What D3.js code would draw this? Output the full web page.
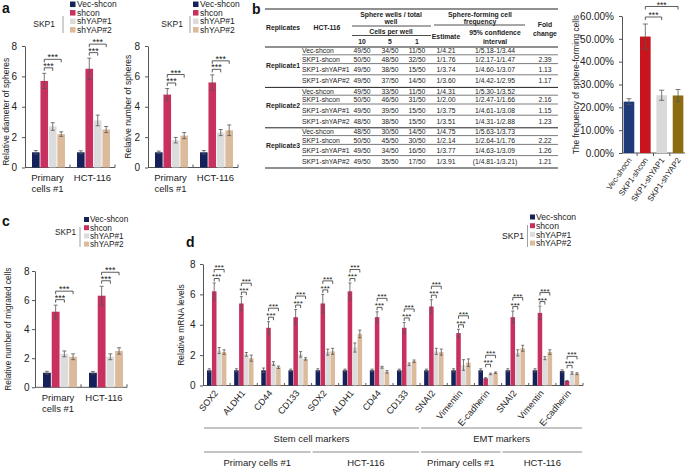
<!DOCTYPE html>
<html><head><meta charset="utf-8">
<script src="https://cdn.jsdelivr.net/npm/d3@7"></script>
<style>
body{margin:0;background:#fff;}
svg{font-family:"Liberation Sans",Arial,Helvetica,sans-serif;}
</style></head><body>
<svg id="fig" width="685" height="468"></svg>
<script>
// ---------------- DATA ----------------
const seriesNames = ["Vec-shcon","shcon","shYAP#1","shYAP#2"];
const seriesColors = ["#15215a","#c8315f","#dcdcdc","#dbbb9b"];
const cellGroups = ["Primary cells #1","HCT-116"];
const yTicksA = [0,2,4,6,8];

const diameterMean = [[1.0,5.7,2.7,2.2],[1.0,6.5,3.1,2.5]];
const diameterErr  = [[0.12,0.5,0.25,0.15],[0.1,0.7,0.35,0.2]];
const sphereNumMean = [[1.0,4.8,1.8,2.1],[1.0,5.6,2.3,2.45]];
const sphereNumErr  = [[0.08,0.4,0.18,0.2],[0.12,0.5,0.2,0.35]];
const migratedMean = [[1.0,5.2,2.3,2.1],[1.0,6.3,2.1,2.5]];
const migratedErr  = [[0.1,0.45,0.2,0.2],[0.08,0.65,0.2,0.22]];

const freqLabels = ["Vec-shocn","SKP1-shcon","SKP1-shYAP1","SKP1-shYAP2"];
const freqMean = [0.225,0.51,0.253,0.252];
const freqErr  = [0.013,0.055,0.022,0.026];
const freqColors = ["#1f3a78","#c8141c","#d9d9d9","#8c6b13"];
const freqTicks = [0,0.1,0.2,0.3,0.4,0.5,0.6];

const tableReplicates = ["Replicate1","Replicate2","Replicate3"];
const tableRowNames = ["Vec-shcon","SKP1-shcon","SKP1-shYAP#1","SKP1-shYAP#2"];
const tableCells10 = ["49/50","50/50","49/50","49/50","49/50","50/50","49/50","48/50","48/50","50/50","49/50","49/50"];
const tableCells5  = ["34/50","48/50","38/50","37/50","33/50","46/50","39/50","38/50","30/50","45/50","34/50","35/50"];
const tableCells1  = ["11/50","32/50","15/50","14/50","11/50","31/50","15/50","15/50","14/50","30/50","16/50","17/50"];
const tableEstimate = ["1/4.21","1/1.76","1/3.74","1/3.60","1/4.31","1/2.00","1/3.75","1/3.51","1/4.75","1/2.14","1/3.77","1/3.91"];
const tableCI = ["1/5.18-1/3.44","1/2.17-1/1.47","1/4.60-1/3.07","1/4.42-1/2.95","1/5.30-1/3.52","1/2.47-1/1.66","1/4.61-1/3.08","1/4.31-1/2.88","1/5.63-1/3.73","1/2.64-1/1.76","1/4.63-1/3.09","(1/4.81-1/3.21)"];
const tableFold = ["","2.39","1.13","1.17","","2.16","1.15","1.23","","2.22","1.26","1.21"];

const mrnaGenes = ["SOX2","ALDH1","CD44","CD133","SOX2","ALDH1","CD44","CD133","SNAI2","Vimentin","E-cadherin","SNAI2","Vimentin","E-cadherin"];
const mrnaVec     = [1,1,1,1,1,1,1,1,1,1,1,1,1,0.95];
const mrnaShcon   = [6.2,5.4,3.8,4.5,5.4,6.2,4.5,3.8,5.2,3.45,0.47,4.5,4.78,0.3];
const mrnaShYAP1  = [2.3,2.05,1.45,2.05,2.2,2.5,1.2,1.4,2.25,1.35,0.76,2.15,1.8,0.82];
const mrnaShYAP2  = [2.2,1.8,1.2,1.75,2.25,3.4,0.9,1.6,2.2,1.5,0.84,2.45,2.2,0.78];
const mrnaVecErr    = [0.1,0.1,0.15,0.08,0.1,0.08,0.08,0.08,0.08,0.1,0.1,0.1,0.1,0.08];
const mrnaShconErr  = [0.55,0.45,0.4,0.5,0.6,0.55,0.35,0.35,0.45,0.25,0.05,0.4,0.45,0.03];
const mrnaShYAP1Err = [0.2,0.12,0.12,0.18,0.2,0.3,0.06,0.08,0.2,0.35,0.05,0.2,0.1,0.08];
const mrnaShYAP2Err = [0.15,0.2,0.08,0.08,0.2,0.25,0.08,0.08,0.2,0.25,0.05,0.2,0.15,0.06];
const markerGroups = [{name:"Stem cell markers", from:0, to:7},{name:"EMT markers", from:8, to:13}];
const cellLineGroups = [{name:"Primary cells #1", from:0, to:3},{name:"HCT-116", from:4, to:7},{name:"Primary cells #1", from:8, to:10},{name:"HCT-116", from:11, to:13}];

// ---------------- DRAWING ----------------
const svg = d3.select("#fig");
const TXT = "#222", AX = "#555", ERR = "#555";

function panelLabel(t, x, y) {
  svg.append("text").attr("x", x).attr("y", y).attr("font-size", 14).attr("font-weight", "bold").attr("fill", "#111").text(t);
}
panelLabel("a", 2, 12.5);
panelLabel("b", 252, 13.5);
panelLabel("c", 2, 226);
panelLabel("d", 186, 246.5);

function styleAxis(sel) {
  sel.selectAll("path,line").attr("stroke", AX);
  sel.selectAll("text").attr("fill", TXT).attr("font-family", null);
}

function legend(o) {
  const g = svg.append("g").attr("font-size", o.fs);
  const rows = g.selectAll("g").data(seriesNames).join("g")
    .attr("transform", (d, i) => `translate(0,${o.y0 + i * o.dy})`);
  rows.append("rect").attr("x", o.sqX).attr("y", -o.sq / 2).attr("width", o.sq).attr("height", o.sq)
    .attr("fill", (d, i) => seriesColors[i]);
  rows.append("text").attr("x", o.textX).attr("y", o.fs * 0.36).attr("fill", TXT).text(d => d);
  g.append("text").attr("x", o.skpX).attr("y", o.skpY).attr("text-anchor", "end").attr("fill", TXT).text("SKP1");
  g.append("line").attr("x1", o.lineX).attr("x2", o.lineX).attr("y1", o.lineY0).attr("y2", o.lineY1)
    .attr("stroke", "#888").attr("stroke-width", 0.8);
}

function bracket(g, xa, xb, yl, fs) {
  g.append("path").attr("d", `M${xa},${yl + 3}V${yl}H${xb}V${yl + 3}`)
    .attr("fill", "none").attr("stroke", "#333").attr("stroke-width", 0.8);
  g.append("text").attr("x", (xa + xb) / 2).attr("y", yl + fs * 0.12).attr("text-anchor", "middle")
    .attr("font-size", fs).attr("fill", TXT).text("***");
}

function errorBar(g, cx, y, m, e, cap) {
  g.append("path").attr("d", `M${cx},${y(m + e)}V${y(m - e)}M${cx - cap},${y(m + e)}H${cx + cap}M${cx - cap},${y(m - e)}H${cx + cap}`)
    .attr("stroke", ERR).attr("stroke-width", 0.8).attr("fill", "none");
}

function groupedChart(o) {
  const g = svg.append("g");
  const x0 = d3.scaleBand().domain(cellGroups).range([o.left, o.right]);
  const x1 = d3.scaleBand().domain(seriesNames).range(o.inner).paddingInner(0.1);
  const y = d3.scaleLinear().domain([0, 8]).range([o.bottom, o.top]);
  g.append("g").attr("transform", `translate(${o.left},0)`).attr("font-size", o.tickFs)
    .call(d3.axisLeft(y).tickValues(yTicksA).tickFormat(d3.format("d")).tickSize(3).tickSizeOuter(0).tickPadding(o.pad))
    .call(styleAxis);
  g.append("line").attr("x1", o.left).attr("x2", o.right).attr("y1", y(0)).attr("y2", y(0)).attr("stroke", AX);
  g.selectAll(".sep").data(cellGroups).join("line").attr("class", "sep")
    .attr("x1", d => x0(d) + x0.bandwidth()).attr("x2", d => x0(d) + x0.bandwidth())
    .attr("y1", y(0)).attr("y2", y(0) - 3).attr("stroke", AX);
  cellGroups.forEach((grp, gi) => {
    const gg = g.append("g").attr("transform", `translate(${x0(grp)},0)`);
    gg.selectAll("rect").data(seriesNames).join("rect")
      .attr("x", s => x1(s)).attr("width", x1.bandwidth())
      .attr("y", (s, i) => y(o.means[gi][i])).attr("height", (s, i) => y(0) - y(o.means[gi][i]))
      .attr("fill", (s, i) => seriesColors[i]);
    seriesNames.forEach((s, i) => errorBar(gg, x1(s) + x1.bandwidth() / 2, y, o.means[gi][i], o.errs[gi][i], 2));
    const base = y(o.means[gi][1] + o.errs[gi][1]);
    const c = s => x1(s) + x1.bandwidth() / 2;
    bracket(gg, c(seriesNames[1]), c(seriesNames[2]), base - 5.5, 9);
    bracket(gg, c(seriesNames[1]), c(seriesNames[3]), base - 14, 9);
    const lines = grp === "Primary cells #1" ? ["Primary", "cells #1"] : [grp];
    gg.selectAll(".xl").data(lines).join("text").attr("class", "xl")
      .attr("x", x0.bandwidth() / 2).attr("y", (d, i) => o.bottom + 13.5 + i * 11)
      .attr("text-anchor", "middle").attr("font-size", o.labFs).attr("fill", TXT).text(d => d);
  });
  g.append("text").attr("transform", `translate(${o.titleX},${(o.top + o.bottom) / 2 + o.titleDy}) rotate(-90)`)
    .attr("text-anchor", "middle").attr("font-size", o.titleFs).attr("fill", TXT).text(o.title);
}

// ---- panel a
legend({fs: 8.5, sq: 5.5, sqX: 70, textX: 77, y0: 4.3, dy: 8.5, skpX: 55, skpY: 26.5, lineX: 63, lineY0: 16, lineY1: 33});
legend({fs: 8.5, sq: 5.5, sqX: 193, textX: 200, y0: 4.3, dy: 8.5, skpX: 183, skpY: 26.5, lineX: 190, lineY0: 16, lineY1: 33});
groupedChart({left: 25, right: 115, inner: [7, 40], top: 46, bottom: 167.5, pad: 5, tickFs: 9,
  means: diameterMean, errs: diameterErr, title: "Relative diameter of spheres", titleX: 9, titleDy: 5, titleFs: 8.5, labFs: 9.5});
groupedChart({left: 148, right: 238, inner: [7, 40], top: 46, bottom: 167.5, pad: 5, tickFs: 9,
  means: sphereNumMean, errs: sphereNumErr, title: "Relative number of spheres", titleX: 131, titleDy: 0, titleFs: 8.5, labFs: 9.5});

// ---- panel c
legend({fs: 8.2, sq: 5, sqX: 84, textX: 90, y0: 219.5, dy: 8.2, skpX: 76, skpY: 235, lineX: 80, lineY0: 227, lineY1: 247});
groupedChart({left: 35, right: 127, inner: [8, 42], top: 271, bottom: 387.3, pad: 2.5, tickFs: 9,
  means: migratedMean, errs: migratedErr, title: "Relative number of migrated cells", titleX: 10.5, titleDy: 0, titleFs: 8.3, labFs: 9.5});

// ---- panel b table
(function () {
  const g = svg.append("g").attr("font-size", 6.8).attr("fill", TXT);
  const L = 265, R = 558;
  const colX = {c10: 362, c5: 390, c1: 417, est: 446, ci: 495, fold: 545};
  const hl = (x1, x2, y, w) => g.append("line").attr("x1", x1).attr("x2", x2).attr("y1", y).attr("y2", y).attr("stroke", "#222").attr("stroke-width", w);
  hl(L, R, 9, 1.2);
  hl(L, R, 47, 1.2);
  hl(352, 431, 26, 0.8);
  hl(352, 431, 35.5, 0.8);
  hl(434, 525, 25, 0.8);
  const bold = (t, x, y, a) => g.append("text").attr("x", x).attr("y", y).attr("font-weight", "bold").attr("text-anchor", a || "middle").text(t);
  bold("Sphere wells / total", 391, 16.5);
  bold("well", 391, 24);
  bold("Cells per well", 391, 33.5);
  bold("10", colX.c10, 43.5); bold("5", colX.c5, 43.5); bold("1", colX.c1, 43.5);
  bold("Replicates", 266, 30, "start");
  bold("HCT-116", 327, 30);
  bold("Sphere-forming cell", 480, 16.5);
  bold("frequency", 480, 24);
  bold("Estimate", colX.est, 38.5);
  bold("95% confidence", colX.ci, 34.5);
  bold("interval", colX.ci, 43.5);
  bold("Fold", 545, 26.5);
  bold("change", 545, 35.5);
  const rowOff = [6.2, 14.9, 25.3, 36.1];
  const lineOff = [7.8, 16.6, 27.8];
  const cols = [["c10", tableCells10], ["c5", tableCells5], ["c1", tableCells1], ["est", tableEstimate], ["ci", tableCI], ["fold", tableFold]];
  tableReplicates.forEach((rep, ri) => {
    const top = 47 + ri * 40.4;
    g.append("text").attr("x", 266).attr("y", top + 20.5).attr("font-weight", "bold").text(rep);
    lineOff.forEach(lo => hl(302, R, top + lo, 0.6));
    if (ri < 2) hl(L, R, top + 40.4, 1);
    tableRowNames.forEach((rn, k) => {
      const idx = ri * 4 + k, yy = top + rowOff[k];
      g.append("text").attr("x", 302).attr("y", yy).text(rn);
      cols.forEach(([key, arr]) => g.append("text").attr("x", colX[key]).attr("y", yy).attr("text-anchor", "middle").text(arr[idx]));
    });
  });
  hl(L, R, 168, 1.2);
})();

// ---- panel b bar chart
(function () {
  const g = svg.append("g");
  const x = d3.scaleBand().domain(freqLabels).range([622, 685]).paddingInner(0.35).paddingOuter(0.1);
  const y = d3.scaleLinear().domain([0, 0.6]).range([153, 16]);
  g.append("g").attr("transform", "translate(622,0)").attr("font-size", 9)
    .call(d3.axisLeft(y).tickValues(freqTicks).tickFormat(d3.format(".2%")).tickSize(3).tickSizeOuter(0).tickPadding(5))
    .call(styleAxis);
  g.append("line").attr("x1", 622).attr("x2", 685).attr("y1", y(0)).attr("y2", y(0)).attr("stroke", AX);
  g.selectAll(".sep").data(freqLabels).join("line").attr("class", "sep")
    .attr("x1", d => x(d) + x.bandwidth() + x.step() * x.paddingInner() / 2)
    .attr("x2", d => x(d) + x.bandwidth() + x.step() * x.paddingInner() / 2)
    .attr("y1", y(0)).attr("y2", y(0) + 3).attr("stroke", AX);
  g.selectAll("rect").data(freqLabels).join("rect")
    .attr("x", d => x(d)).attr("width", x.bandwidth())
    .attr("y", (d, i) => y(freqMean[i])).attr("height", (d, i) => y(0) - y(freqMean[i]))
    .attr("fill", (d, i) => freqColors[i]);
  freqLabels.forEach((d, i) => errorBar(g, x(d) + x.bandwidth() / 2, y, freqMean[i], freqErr[i], 2.5));
  const c = i => x(freqLabels[i]) + x.bandwidth() / 2;
  const base = y(freqMean[1] + freqErr[1]);
  bracket(g, c(1), c(2), base - 7, 8.5);
  bracket(g, c(1), c(3), base - 17.5, 8.5);
  g.selectAll(".xl").data(freqLabels).join("text").attr("class", "xl")
    .attr("transform", d => `translate(${x(d) + x.bandwidth() / 2 + 3},${y(0) + 7}) rotate(-55)`)
    .attr("text-anchor", "end").attr("font-size", 8).attr("fill", TXT).text(d => d);
  g.append("text").attr("transform", `translate(579,${(16 + 153) / 2}) rotate(-90)`)
    .attr("text-anchor", "middle").attr("font-size", 8.3).attr("fill", TXT).text("The frequency of sphere-forming cells");
})();

// ---- panel d
legend({fs: 8.6, sq: 5, sqX: 530, textX: 536, y0: 217, dy: 8.7, skpX: 524, skpY: 239, lineX: 527.5, lineY0: 225, lineY1: 247});
(function () {
  const g = svg.append("g");
  const idx = d3.range(mrnaGenes.length);
  const x0 = d3.scaleBand().domain(idx).range([203, 583]);
  const x1 = d3.scaleBand().domain(seriesNames).range([4, 23.4]).paddingInner(0.08);
  const y = d3.scaleLinear().domain([0, 8]).range([385.5, 264]);
  const means = [mrnaVec, mrnaShcon, mrnaShYAP1, mrnaShYAP2];
  const errs = [mrnaVecErr, mrnaShconErr, mrnaShYAP1Err, mrnaShYAP2Err];
  g.append("g").attr("transform", "translate(203,0)").attr("font-size", 9)
    .call(d3.axisLeft(y).tickValues(yTicksA).tickFormat(d3.format("d")).tickSize(3).tickSizeOuter(0).tickPadding(4.5))
    .call(styleAxis);
  g.append("line").attr("x1", 203).attr("x2", 583).attr("y1", y(0)).attr("y2", y(0)).attr("stroke", AX);
  g.selectAll(".sep").data(idx).join("line").attr("class", "sep")
    .attr("x1", d => x0(d) + x0.bandwidth()).attr("x2", d => x0(d) + x0.bandwidth())
    .attr("y1", y(0)).attr("y2", y(0) - 2.5).attr("stroke", AX);
  idx.forEach(gi => {
    const gg = g.append("g").attr("transform", `translate(${x0(gi)},0)`);
    gg.selectAll("rect").data(seriesNames).join("rect")
      .attr("x", s => x1(s)).attr("width", x1.bandwidth())
      .attr("y", (s, i) => y(means[i][gi])).attr("height", (s, i) => y(0) - y(means[i][gi]))
      .attr("fill", (s, i) => seriesColors[i]);
    seriesNames.forEach((s, i) => errorBar(gg, x1(s) + x1.bandwidth() / 2, y, means[i][gi], errs[i][gi], 1.5));
    const c = s => x1(s) + x1.bandwidth() / 2;
    const base = d3.min([0, 1, 2, 3], i => y(means[i][gi] + errs[i][gi]));
    bracket(gg, c(seriesNames[1]), c(seriesNames[2]), base - 4.5, 8);
    bracket(gg, c(seriesNames[1]), c(seriesNames[3]), base - 13.5, 8);
  });
  g.selectAll(".xl").data(idx).join("text").attr("class", "xl")
    .attr("transform", d => `translate(${x0(d) + x0.bandwidth() / 2 + 2},${y(0) + 8}) rotate(-50)`)
    .attr("text-anchor", "end").attr("font-size", 9).attr("fill", TXT).text(d => mrnaGenes[d]);
  g.append("text").attr("transform", `translate(184,325) rotate(-90)`)
    .attr("text-anchor", "middle").attr("font-size", 8.5).attr("fill", TXT).text("Relative mRNA levels");
  const span = (a, b) => [x0(a) + 1, x0(b) + x0.bandwidth() - 1];
  g.selectAll(".mg").data(markerGroups).join("line").attr("class", "mg")
    .attr("x1", d => span(d.from, d.to)[0]).attr("x2", d => span(d.from, d.to)[1])
    .attr("y1", 428).attr("y2", 428).attr("stroke", "#c4c4c4").attr("stroke-width", 2);
  g.selectAll(".mgt").data(markerGroups).join("text").attr("class", "mgt")
    .attr("x", d => d3.mean(span(d.from, d.to))).attr("y", 442).attr("text-anchor", "middle")
    .attr("font-size", 9.5).attr("fill", TXT).text(d => d.name);
  g.selectAll(".cg").data(cellLineGroups).join("line").attr("class", "cg")
    .attr("x1", d => span(d.from, d.to)[0]).attr("x2", d => span(d.from, d.to)[1])
    .attr("y1", 452).attr("y2", 452).attr("stroke", "#c4c4c4").attr("stroke-width", 2);
  g.selectAll(".cgt").data(cellLineGroups).join("text").attr("class", "cgt")
    .attr("x", d => d3.mean(span(d.from, d.to))).attr("y", 466).attr("text-anchor", "middle")
    .attr("font-size", 9.5).attr("fill", TXT).text(d => d.name);
})();
</script>
</body></html>
